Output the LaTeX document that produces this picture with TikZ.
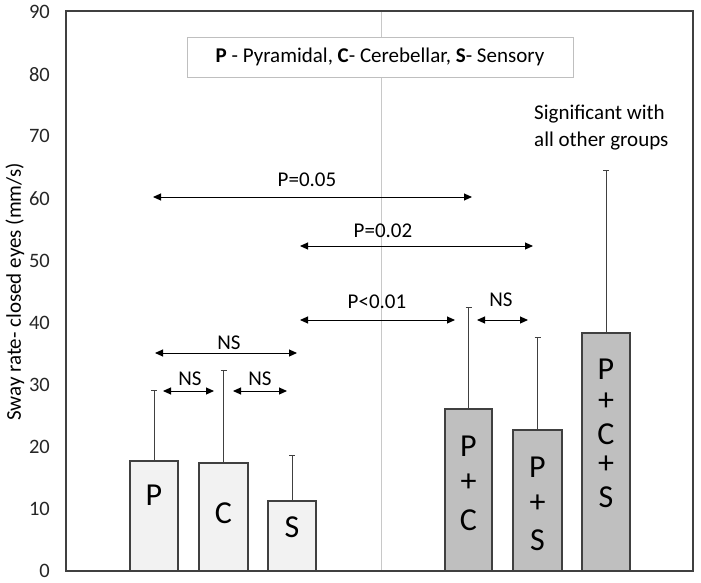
\documentclass[tikz,border=0pt]{standalone}
\usepackage{fontspec}
\setmainfont{Carlito}
\usetikzlibrary{arrows.meta}
\definecolor{frame}{HTML}{404040}
\definecolor{lightbar}{HTML}{F2F2F2}
\definecolor{darkbar}{HTML}{BFBFBF}
\definecolor{divider}{HTML}{C8C8C8}
\definecolor{legendline}{HTML}{BFBFBF}
\begin{document}
\begin{tikzpicture}[x=1pt,y=-1pt,
  lbar/.style={draw=frame,line width=1.2pt,fill=lightbar},
  dbar/.style={draw=frame,line width=1.2pt,fill=darkbar},
  errbar/.style={draw=frame,line width=1pt},
  cmp/.style={draw=black,line width=1pt,{Triangle[length=8pt,width=7pt]}-{Triangle[length=8pt,width=7pt]}},
  ticklab/.style={anchor=east,font=\fontsize{20.5}{24}\selectfont,text=black!85,inner sep=0pt},
  lab/.style={font=\fontsize{21}{27}\selectfont,inner sep=0pt},
  barlab/.style={font=\fontsize{32}{36}\selectfont,inner sep=0pt}]
\useasboundingbox (0,0) rectangle (701,583);
% divider
\draw[divider,line width=0.8pt] (381,11) -- (381,571);
% bars
\newcommand{\mybar}[6]{% name, style, x1, x2, top, errtop
  \path[#2] (#3,571) rectangle (#4,#5);
  \coordinate (#1top) at ({(#3+#4)/2},#5);
  \coordinate (#1err) at ({(#3+#4)/2},#6);
  \draw[errbar] (#1top) -- (#1err);
  \draw[errbar] ([xshift=-3pt]#1err) -- ([xshift=3pt]#1err);
}
\mybar{p}{lbar}{130}{178}{461}{390}
\mybar{c}{lbar}{199}{248}{463}{370}
\mybar{s}{lbar}{268}{316}{501}{455}
\mybar{pc}{dbar}{445}{492}{409}{307}
\mybar{ps}{dbar}{513}{562}{430}{337}
\mybar{pcs}{dbar}{582}{630}{333}{170}
% frame
\draw[frame,line width=1.2pt] (66,11) rectangle (693,571);
% tick labels
\foreach \v in {0,10,...,90}
  \node[ticklab] (t\v) at (50,{571-\v*6.21}) {\v};
% y label
\node[lab,rotate=90] (ylab) at (15,292) {Sway rate- closed eyes (mm/s)};
% legend
\node[draw=legendline,line width=0.8pt,fill=white,minimum width=386pt,minimum height=40pt,inner sep=0pt,font=\fontsize{21}{24}\selectfont] (legend) at (380,57)
  {\textbf{P} - Pyramidal, \textbf{C}- Cerebellar, \textbf{S}- Sensory};
% bar labels
\node[barlab] (lp) at (154,495) {P};
\node[barlab] (lc) at (223.5,513) {C};
\node[barlab] (ls) at (292,527) {S};
\node[barlab] (lpc1) at (468.5,446) {P};
\node[barlab] (lpc2) at (468.5,483) {+};
\node[barlab] (lpc3) at (468.5,520) {C};
\node[barlab] (lps1) at (537.5,467) {P};
\node[barlab] (lps2) at (537.5,504) {+};
\node[barlab] (lps3) at (537.5,540) {S};
\node[barlab] (lpcs1) at (606,369) {P};
\node[barlab] (lpcs2) at (606,402) {+};
\node[barlab] (lpcs3) at (606,434) {C};
\node[barlab] (lpcs4) at (606,465) {+};
\node[barlab] (lpcs5) at (606,497) {S};
% significance note
\node[lab,align=left,anchor=west] (sig) at (534,128) {Significant with\\all other groups};
% comparison arrows
\coordinate (a1l) at (153,197); \coordinate (a1r) at (472,197);
\coordinate (a2l) at (300,246); \coordinate (a2r) at (533,246);
\coordinate (a3l) at (300,320); \coordinate (a3r) at (455,320);
\coordinate (a4l) at (477,320); \coordinate (a4r) at (528,320);
\coordinate (a5l) at (155,353); \coordinate (a5r) at (297,353);
\coordinate (a6l) at (163,391); \coordinate (a6r) at (214,391);
\coordinate (a7l) at (233,391); \coordinate (a7r) at (287,391);
\draw[cmp] (a1l) -- (a1r);
\draw[cmp] (a2l) -- (a2r);
\draw[cmp] (a3l) -- (a3r);
\draw[cmp] (a4l) -- (a4r);
\draw[cmp] (a5l) -- (a5r);
\draw[cmp] (a6l) -- (a6r);
\draw[cmp] (a7l) -- (a7r);
\node[lab] (n1) at (307,180) {P=0.05};
\node[lab] (n2) at (383,231) {P=0.02};
\node[lab] (n3) at (377,302) {P<0.01};
\node[lab] (n4) at (501,300) {NS};
\node[lab] (n5) at (229,343) {NS};
\node[lab] (n6) at (190,379) {NS};
\node[lab] (n7) at (260,379) {NS};
\end{tikzpicture}
\end{document}
